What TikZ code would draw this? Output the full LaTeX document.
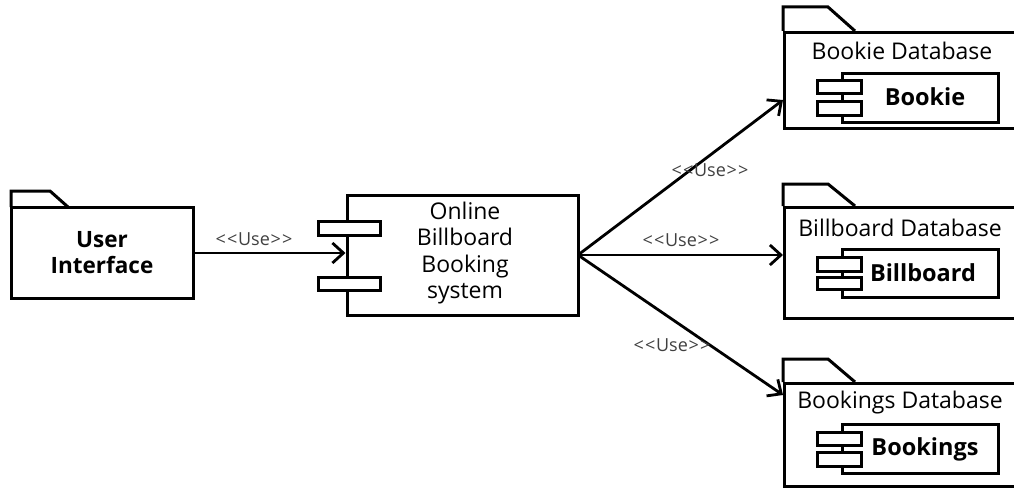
\documentclass[tikz,border=0pt]{standalone}
\usepackage{fontspec}
\setmainfont{Open Sans}
\usetikzlibrary{arrows.meta}
\newcommand{\usetag}{<\kern1.2pt<\kern0.8ptUse\kern0.8pt>\kern1.2pt>}
\begin{document}
\begin{tikzpicture}[x=1pt,y=-1pt,
  line width=3pt,
  pkg/.style={draw,fill=white,rectangle,inner sep=0pt},
  comp/.style={draw,fill=white,rectangle,inner sep=0pt},
  port/.style={draw,fill=white,rectangle,inner sep=0pt},
  uselbl/.style={font=\fontsize{18}{20}\selectfont,text=black!75,inner sep=1pt},
  dep/.style={-{Straight Barb[length=11pt,width=20pt,line width=2.8pt]},line width=2.8pt},
  pkgtitle/.style={font=\fontsize{23}{25}\selectfont,inner sep=0pt},
  bname/.style={font=\bfseries\fontsize{23.5}{25}\selectfont,inner sep=0pt}]
\useasboundingbox (0,0) rectangle (1014,487);

% User Interface package
\draw (11,207) -- (11,191) -- (50,191) -- (68,207);
\node[pkg,minimum width=182pt,minimum height=91pt,
      align=center,font=\bfseries\fontsize{22.5}{26}\selectfont] (ui) at (102,252.5) {User\\Interface};

% Main component
\node[comp,minimum width=231pt,minimum height=120pt] (sys) at (462.5,255) {};
\node[align=center,font=\fontsize{23}{26.3}\selectfont,inner sep=0pt] (systxt) at (465,253) {Online\\Billboard\\Booking\\system};
\node[port,minimum width=62pt,minimum height=14pt] (p1) at (349,228) {};
\node[port,minimum width=62pt,minimum height=13pt] (p2) at (349,283.5) {};

% Database packages (right edge runs off the page)
\draw (783,31) -- (783,7) -- (828,7) -- (855,31);
\draw (783,206) -- (783,184) -- (828,184) -- (855,206);
\draw (783,382) -- (783,359) -- (828,359) -- (855,382);
\node[pkg,minimum width=236pt,minimum height=96pt,anchor=north west] (bk) at (783,31) {};
\node[pkg,minimum width=236pt,minimum height=111pt,anchor=north west] (bb) at (783,206) {};
\node[pkg,minimum width=236pt,minimum height=103pt,anchor=north west] (bs) at (783,382) {};

\node[pkgtitle] (bkt) at (902,51) {Bookie Database};
\node[pkgtitle] (bbt) at (900,228) {Billboard Database};
\node[pkgtitle] (bst) at (900,403) {Bookings Database};

% inner components
\node[comp,minimum width=156pt,minimum height=49pt] (bkc) at (920,97.5) {};
\node[port,minimum width=44pt,minimum height=13pt] (bkp1) at (839,86.5) {};
\node[port,minimum width=44pt,minimum height=14pt] (bkp2) at (839,108) {};
\node[bname] (bkn) at (925,97) {Bookie};

\node[comp,minimum width=156pt,minimum height=48pt] (bbc) at (920,273) {};
\node[port,minimum width=44pt,minimum height=14pt] (bbp1) at (839,264) {};
\node[port,minimum width=44pt,minimum height=12pt] (bbp2) at (839,283) {};
\node[bname] (bbn) at (923,273) {Billboard};

\node[comp,minimum width=156pt,minimum height=49pt] (bsc) at (920,448.5) {};
\node[port,minimum width=44pt,minimum height=13pt] (bsp1) at (839,438.5) {};
\node[port,minimum width=44pt,minimum height=14pt] (bsp2) at (839,459) {};
\node[bname] (bsn) at (925,449) {Bookings};

% connectors
\coordinate (sysE) at (578,255);
\draw[dep] (ui.east |- 0,253) -- (sys.west |- 0,253);
\draw[dep] (sysE) -- (bk.west |- 0,100);
\draw[dep] (sysE) -- (bb.west |- 0,255);
\draw[dep] (sysE) -- (bs.west |- 0,395);

\node[uselbl] (l0) at (254,239) {\usetag};
\node[uselbl] (l1) at (710,170) {\usetag};
\node[uselbl] (l2) at (681,240) {\usetag};
\node[uselbl] (l3) at (672,345) {\usetag};
\end{tikzpicture}
\end{document}
